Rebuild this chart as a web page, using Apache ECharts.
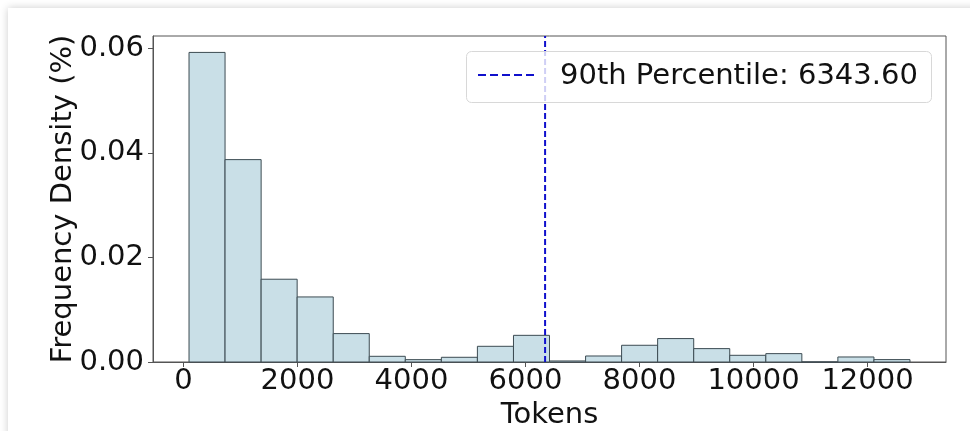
<!DOCTYPE html>
<html>
<head>
<meta charset="utf-8">
<script src="https://cdn.jsdelivr.net/npm/echarts@6/dist/echarts.min.js"></script>
<style>
html,body{margin:0;padding:0;background:#fff;}
#c{width:970px;height:431px;}
</style>
</head>
<body>
<div id="c"></div>
<script>
// Histogram bin edges (tokens)
const binEdges = [97, 729, 1362, 1994, 2627, 3259, 3891, 4524, 5156, 5789, 6421, 7054, 7686, 8318, 8951, 9583, 10216, 10848, 11480, 12113, 12745];
// Frequency density (%) per bin
const densities = [0.0592, 0.0387, 0.01583, 0.01244, 0.00543, 0.00109, 0.00045, 0.0009, 0.0030, 0.0051, 0.0002, 0.00115, 0.0032, 0.00448, 0.00256, 0.00128, 0.0016, 0, 0.00096, 0.00046];
const xTicks = [0, 2000, 4000, 6000, 8000, 10000, 12000];
const yTicks = [0, 0.02, 0.04, 0.06];
const percentile90 = 6343.60;
const legendLabel = '90th Percentile: 6343.60';

const xMin = -535, xMax = 13377, yMax = 0.06234;

const histData = densities.map((d, i) => [binEdges[i], binEdges[i + 1], d]);

const chart = echarts.init(document.getElementById('c'), null, {renderer: 'canvas'});
const font = "'DejaVu Sans', 'Liberation Sans', sans-serif";
const fs = 29;

chart.setOption({
  animation: false,
  backgroundColor: '#fff',
  grid: {left: 153, right: 24, top: 36, bottom: 69, outerBoundsMode: 'none', containLabel: false, show: true, borderColor: '#555', borderWidth: 1, backgroundColor: 'transparent'},
  xAxis: {
    type: 'value', min: xMin, max: xMax,
    name: 'Tokens', nameLocation: 'middle', nameGap: 39, nameMoveOverlap: false,
    nameTextStyle: {fontFamily: font, fontSize: fs, color: '#111'},
    axisLine: {show: true, onZero: false, lineStyle: {color: '#555'}},
    axisTick: {show: true, length: 5, lineStyle: {color: '#555'}, customValues: xTicks},
    axisLabel: {fontFamily: font, fontSize: fs, color: '#111', margin: 5, customValues: xTicks, formatter: v => String(v)},
    splitLine: {show: false}
  },
  yAxis: {
    type: 'value', min: 0, max: yMax,
    name: 'Frequency Density (%)', nameLocation: 'middle', nameGap: 75, nameRotate: 90, nameMoveOverlap: false,
    nameTextStyle: {fontFamily: font, fontSize: fs, color: '#111'},
    axisLine: {show: true, onZero: false, lineStyle: {color: '#555'}},
    axisTick: {show: true, length: 5, lineStyle: {color: '#555'}, customValues: yTicks},
    axisLabel: {fontFamily: font, fontSize: fs, color: '#111', margin: 9, customValues: yTicks, formatter: v => v.toFixed(2)},
    splitLine: {show: false}
  },
  series: [
    {
      type: 'custom',
      data: histData,
      encode: {x: [0, 1], y: 2},
      renderItem: function (params, api) {
        const p0 = api.coord([api.value(0), 0]);
        const p1 = api.coord([api.value(1), api.value(2)]);
        return {
          type: 'rect',
          shape: {x: p0[0], y: p1[1], width: p1[0] - p0[0], height: p0[1] - p1[1]},
          style: {fill: '#c9dfe7', stroke: '#3c4b52', lineWidth: 1}
        };
      },
      z: 2
    },
    {
      type: 'line',
      data: [[percentile90, 0], [percentile90, yMax]],
      symbol: 'none',
      lineStyle: {color: '#1010cc', width: 2, type: [6, 3]},
      z: 3
    }
  ],
  graphic: [
    {
      type: 'rect', z: -10, silent: true,
      shape: {x: 8, y: 8, width: 1000, height: 500},
      style: {fill: '#fff', shadowBlur: 8, shadowColor: 'rgba(0,0,0,0.2)'}
    },
    {
      type: 'rect', z: 10,
      shape: {x: 466.5, y: 51.5, width: 465, height: 51, r: 5},
      style: {fill: 'rgba(255,255,255,0.8)', stroke: '#d8d8d8', lineWidth: 1}
    },
    {
      type: 'line', z: 11,
      shape: {x1: 478, y1: 75, x2: 537, y2: 75},
      style: {stroke: '#1010cc', lineWidth: 2, lineDash: [8, 4]}
    },
    {
      type: 'text', z: 11,
      style: {x: 560, y: 76, text: legendLabel, font: fs + "px 'DejaVu Sans', sans-serif", fill: '#111', verticalAlign: 'middle', textAlign: 'left'}
    }
  ]
});
</script>
</body>
</html>
